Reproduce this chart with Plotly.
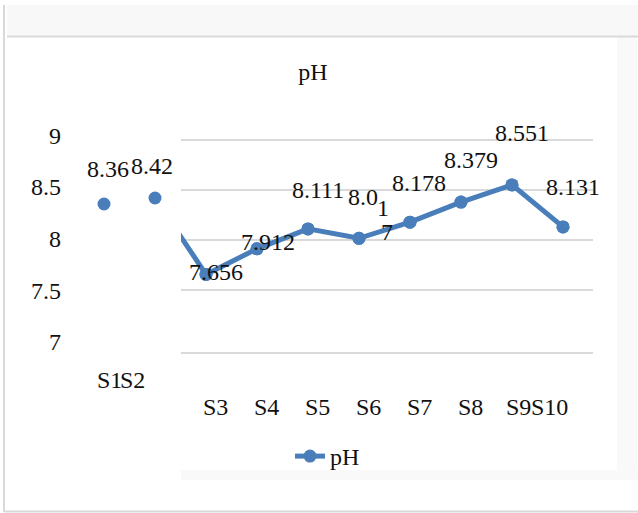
import plotly.graph_objects as go

# pH readings per sampling site
sites = ["S1", "S2", "S3", "S4", "S5", "S6", "S7", "S8", "S9", "S10"]
ph = [8.36, 8.42, 7.656, 7.912, 8.111, 8.017, 8.178, 8.379, 8.551, 8.131]

y_tick_vals = [7, 7.5, 8, 8.5, 9]
y_tick_text = ["7", "7.5", "8", "8.5", "9"]

BLUE = "#4a7ebb"
GRID = "#d9d9d9"
INK = "#111111"
FONT = "Liberation Serif"
FS = 24

W, H = 638, 513
L, R, T, B = 62, 45, 135, 161
PW, PH = W - L - R, H - T - B

# horizontal layout: first site centre and spacing between sites (px)
X0_PX, STEP_PX = 104, 51
GRID_LEFT_PX = 181          # where the gridded area begins
Y_RANGE = [6.88, 9.05]


def px_x(px):
    return (px - L) / PW


def px_y(py):
    return (H - B - py) / PH


def idx_at(px):
    return (px - X0_PX) / STEP_PX


fig = go.Figure()

# line inside the gridded area (clipped at its left edge)
fig.add_trace(go.Scatter(
    x=sites, y=ph, mode="lines+markers", name="pH",
    line=dict(color=BLUE, width=5),
    marker=dict(size=13, color=BLUE),
    xaxis="x", yaxis="y",
))
# markers on the wider overlay so the first sites stay visible
fig.add_trace(go.Scatter(
    x=sites, y=ph, mode="markers", name="pH", showlegend=False,
    marker=dict(size=13, color=BLUE),
    xaxis="x2", yaxis="y2",
))
# carrier for the value-axis labels
fig.add_trace(go.Scatter(
    x=[], y=[], mode="markers", showlegend=False, hoverinfo="skip",
    xaxis="x2", yaxis="y3",
))

annotations = []
label_font = dict(family=FONT, size=FS, color=INK)

# value labels (pixel nudges per point)
label_nudge = [(4, 35), (-3, 32), (10, 2), (11, 7), (10, 39), None,
               (9, 39), (10, 42), (10, 52), (10, 40)]
for s, v, nd in zip(sites, ph, label_nudge):
    t = str(v)
    if nd is None:
        # narrow label wraps onto three lines
        for piece, (dx, dy) in zip([t[:3], t[3], t[4]], [(4, 41), (24, 30), (28, 6)]):
            annotations.append(dict(x=s, y=v, xref="x2", yref="y2", text=piece,
                                    showarrow=False, xshift=dx, yshift=dy,
                                    borderpad=0, font=label_font))
    else:
        annotations.append(dict(x=s, y=v, xref="x2", yref="y2", text=t,
                                showarrow=False, xshift=nd[0], yshift=nd[1],
                                borderpad=0, font=label_font))

# category labels
cat_style = {
    "S1": ("right", 18, -28), "S2": ("left", -35, -28),
    "S9": ("right", 19, -55), "S10": ("left", -32, -55),
}
for s in sites:
    anchor, dx, dy = cat_style.get(s, ("center", 9, -55))
    annotations.append(dict(x=s, y=0, xref="x2", yref="paper", text=s,
                            showarrow=False, xanchor=anchor, yanchor="middle",
                            xshift=dx, yshift=dy, borderpad=0, borderwidth=0,
                            font=label_font))

# frame decoration around the chart
shapes = [
    dict(type="rect", xref="paper", yref="paper", x0=px_x(7), x1=px_x(638),
         y0=px_y(36), y1=px_y(5), fillcolor="#f8f8f8", line=dict(width=0), layer="below"),
    dict(type="rect", xref="paper", yref="paper", x0=px_x(617), x1=px_x(637),
         y0=px_y(480), y1=px_y(37), fillcolor="#f9f9f9", line=dict(width=0), layer="below"),
    dict(type="rect", xref="paper", yref="paper", x0=px_x(181), x1=px_x(638),
         y0=px_y(480), y1=px_y(470), fillcolor="#f9f9f9", line=dict(width=0), layer="below"),
    dict(type="line", xref="paper", yref="paper", x0=px_x(7), x1=px_x(638),
         y0=px_y(36.5), y1=px_y(36.5), line=dict(color=GRID, width=2)),
    dict(type="line", xref="paper", yref="paper", x0=px_x(4), x1=px_x(4),
         y0=px_y(5), y1=px_y(512), line=dict(color=GRID, width=2)),
    dict(type="line", xref="paper", yref="paper", x0=px_x(4), x1=px_x(638),
         y0=px_y(511.5), y1=px_y(511.5), line=dict(color=GRID, width=2)),
]

grid_dom = [px_x(GRID_LEFT_PX), 1]

fig.update_layout(
    width=W, height=H,
    margin=dict(l=L, r=R, t=T, b=B, pad=0),
    paper_bgcolor="white", plot_bgcolor="rgba(0,0,0,0)",
    font=dict(family=FONT, size=FS, color=INK),
    title=dict(text="pH", x=313 / W, xref="container", xanchor="center",
               y=1 - 72 / H, yref="container", yanchor="middle",
               font=dict(family=FONT, size=FS, color=INK)),
    xaxis=dict(type="category", domain=grid_dom,
               range=[idx_at(GRID_LEFT_PX), idx_at(W - R)],
               showgrid=False, showticklabels=False, ticks="", zeroline=False,
               showline=True, linecolor=GRID, linewidth=1.5, anchor="y"),
    yaxis=dict(range=Y_RANGE, tickvals=[7.5, 8, 8.5, 9], anchor="x",
               showticklabels=False, ticks="", showgrid=True,
               gridcolor=GRID, gridwidth=1.5, zeroline=False),
    xaxis2=dict(type="category", domain=[0, 1], anchor="y2",
                range=[idx_at(L), idx_at(W - R)],
                showgrid=False, showticklabels=False, ticks="",
                zeroline=False, showline=False),
    yaxis2=dict(range=Y_RANGE, anchor="x2", showgrid=False,
                showticklabels=False, ticks="", zeroline=False, showline=False),
    yaxis3=dict(overlaying="y2", anchor="x2", side="left", range=[6.903, 9.001],
                tickvals=y_tick_vals, ticktext=y_tick_text,
                showgrid=False, zeroline=False, ticks="", showline=False,
                tickfont=dict(family=FONT, size=FS, color=INK)),
    showlegend=True,
    legend=dict(orientation="h", x=px_x(290), xanchor="left",
                y=px_y(434), yanchor="top", bgcolor="rgba(0,0,0,0)",
                font=dict(family=FONT, size=FS, color=INK)),
    annotations=annotations,
    shapes=shapes,
)

fig.write_html("out.html")
